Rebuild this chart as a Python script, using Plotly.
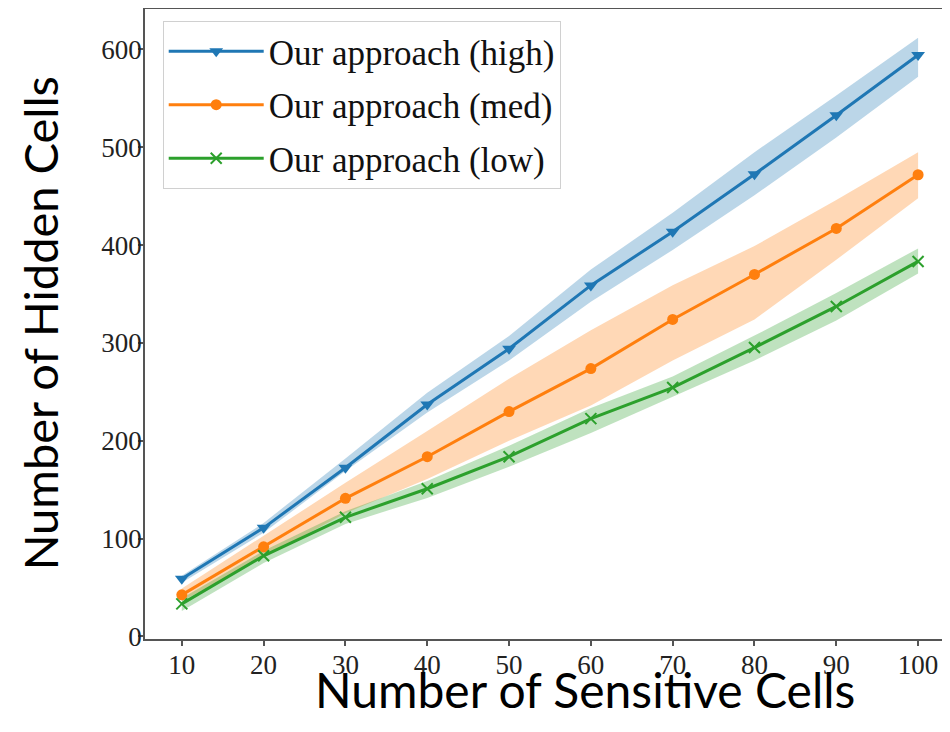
import plotly.graph_objects as go

x_vals = [10, 20, 30, 40, 50, 60, 70, 80, 90, 100]

high_mean = [58.9, 111, 172.5, 237, 294, 358.8, 413.6, 472.4, 532.7, 594.2]
high_upper = [62, 116, 182, 249, 307, 375, 433, 495, 553, 612]
high_lower = [55, 106, 169, 229, 282, 342, 395, 451, 510, 572]

med_mean = [42.5, 91.6, 141.2, 183.7, 229.8, 273.8, 324, 370, 417, 471.9]
med_upper = [49, 103, 157, 210, 263.5, 313, 359, 399, 446, 495]
med_lower = [36, 81, 126, 161, 200, 236, 282, 324, 385, 448]

low_mean = [33.3, 82.4, 121.8, 151, 183.7, 222.6, 254.4, 295.3, 337.3, 383.3]
low_upper = [39, 87.5, 128, 159, 195, 233.6, 265.6, 307.5, 351, 396.6]
low_lower = [26, 75, 115, 141.6, 173.5, 208, 245, 282, 323, 371]

series_names = ["Our approach (high)", "Our approach (med)", "Our approach (low)"]
x_ticks = [10, 20, 30, 40, 50, 60, 70, 80, 90, 100]
y_ticks = [0, 100, 200, 300, 400, 500, 600]
x_title = "Number of Sensitive Cells"
y_title = "Number of Hidden Cells"

colors = ["#1f77b4", "#ff7f0e", "#2ca02c"]
fills = ["rgba(31,119,180,0.3)", "rgba(255,127,14,0.3)", "rgba(44,160,44,0.3)"]
symbols = ["triangle-down", "circle", "x-thin"]
msizes = [12, 11, 11]

means = [high_mean, med_mean, low_mean]
uppers = [high_upper, med_upper, low_upper]
lowers = [high_lower, med_lower, low_lower]

fig = go.Figure()

for i in range(3):
    fig.add_trace(go.Scatter(x=x_vals, y=uppers[i], mode="lines", line=dict(width=0),
                             showlegend=False, hoverinfo="skip"))
    fig.add_trace(go.Scatter(x=x_vals, y=lowers[i], mode="lines", line=dict(width=0),
                             fill="tonexty", fillcolor=fills[i],
                             showlegend=False, hoverinfo="skip"))

for i in range(3):
    mk = dict(symbol=symbols[i], size=msizes[i], color=colors[i])
    if symbols[i] == "x-thin":
        mk["line"] = dict(width=2, color=colors[i])
    fig.add_trace(go.Scatter(x=x_vals, y=means[i], mode="lines+markers", name=series_names[i],
                             line=dict(color=colors[i], width=3), marker=mk,
                             legendgroup="g%d" % i))

axis_common = dict(
    showgrid=False, zeroline=False, showline=True, linecolor="#555555", linewidth=1.5,
    ticks="outside", ticklen=5, tickwidth=1.5, tickcolor="#555555", automargin=False,
    tickfont=dict(family="Liberation Serif", size=27, color="#222222"),
)

# the page body adds an 8px offset, so margins are reduced by 8 to compensate
fig.update_layout(
    width=950, height=732,
    margin=dict(l=137, r=8, t=1, b=101),
    paper_bgcolor="white", plot_bgcolor="white",
    xaxis=dict(range=[5.5, 103.9], tickvals=x_ticks, mirror=True, ticklabelstandoff=-4,
               **axis_common),
    yaxis=dict(range=[-2.6, 641.3], tickvals=y_ticks, mirror=False, ticklabelstandoff=-9,
               **axis_common),
    legend=dict(x=0.022, y=0.981, xanchor="left", yanchor="top",
                bgcolor="rgba(255,255,255,0.9)", bordercolor="#d0d0d0", borderwidth=1,
                font=dict(family="Liberation Serif", size=35, color="#111111"),
                tracegroupgap=5, itemwidth=95),
    showlegend=True,
    annotations=[
        dict(text=x_title, xref="paper", yref="paper", x=0.547, y=-0.080,
             xanchor="center", yanchor="middle", showarrow=False,
             font=dict(family="Lato", size=48, color="black")),
        dict(text=y_title, xref="paper", yref="paper", x=-0.130, y=0.5016,
             xanchor="center", yanchor="middle", showarrow=False, textangle=-90,
             font=dict(family="Lato", size=47, color="black")),
    ],
)

fig.write_html("out.html")
